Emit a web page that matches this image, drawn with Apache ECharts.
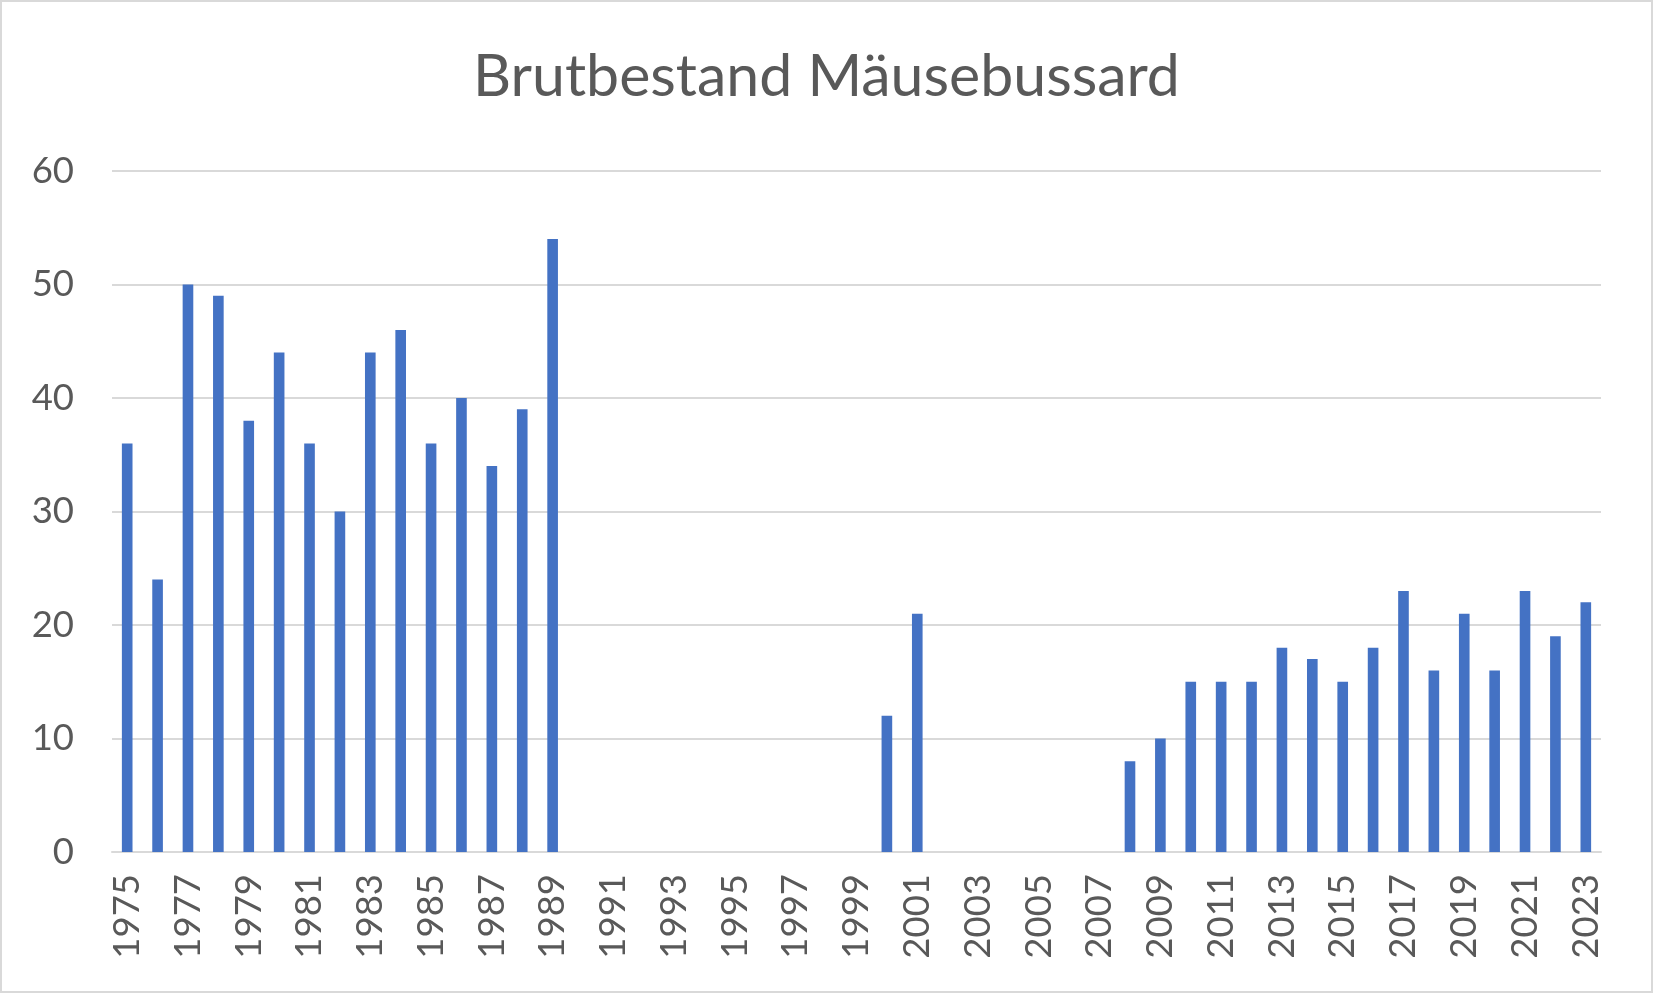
<!DOCTYPE html>
<html>
<head>
<meta charset="utf-8">
<title>Brutbestand Mäusebussard</title>
<script src="https://cdn.jsdelivr.net/npm/echarts@6/dist/echarts.min.js"></script>
<style>
  html, body { margin: 0; padding: 0; background: #fff; }
  .chart {
    width: 1653px;
    height: 993px;
    box-sizing: border-box;
    border: 2px solid #d9d9d9;
  }
</style>
</head>
<body>
<div class="chart"></div>
<script>
// Jahre 1975 - 2023
const years = []
for (let y = 1975; y <= 2023; y++) years.push(String(y))

// Brutpaare, null = kein Wert
const pairs = [
  36, 24, 50, 49, 38, 44, 36, 30, 44, 46, 36, 40, 34, 39, 54,
  null, null, null, null, null, null, null, null, null, null,
  12, 21,
  null, null, null, null, null, null,
  8, 10, 15, 15, 15, 18, 17, 15, 18, 23, 16, 21, 16, 23, 19, 22,
]

const yTicks = [0, 10, 20, 30, 40, 50, 60]

const myChart = echarts.init(document.querySelector('.chart'))

const textColor = '#595959'
const lineColor = '#d9d9d9'

const option = {
  animation: false,
  title: {
    text: 'Brutbestand Mäusebussard',
    left: 'center',
    top: 40,
    textStyle: {
      color: textColor,
      fontFamily: 'Lato',
      fontWeight: 'normal',
      fontSize: 59,
    },
  },
  grid: {
    left: 110,
    right: 50,
    top: 169,
    bottom: 139,
    containLabel: false,
  },
  xAxis: {
    type: 'category',
    data: years,
    axisLine: { lineStyle: { color: lineColor, width: 2 } },
    axisTick: { show: false },
    axisLabel: {
      interval: 1,
      rotate: 90,
      margin: 22,
      color: textColor,
      fontFamily: 'Lato',
      fontSize: 36.5,
    },
  },
  yAxis: {
    type: 'value',
    min: yTicks[0],
    max: yTicks[yTicks.length - 1],
    interval: 10,
    axisLine: { show: false },
    axisTick: { show: false },
    splitLine: { lineStyle: { color: lineColor, width: 2 } },
    axisLabel: {
      margin: 38,
      color: textColor,
      fontFamily: 'Lato',
      fontSize: 36.5,
    },
  },
  series: [
    {
      name: 'Brutbestand',
      type: 'bar',
      data: pairs,
      barWidth: '35%',
      itemStyle: { color: '#4472c4' },
    },
  ],
}

myChart.setOption(option)
</script>
</body>
</html>
